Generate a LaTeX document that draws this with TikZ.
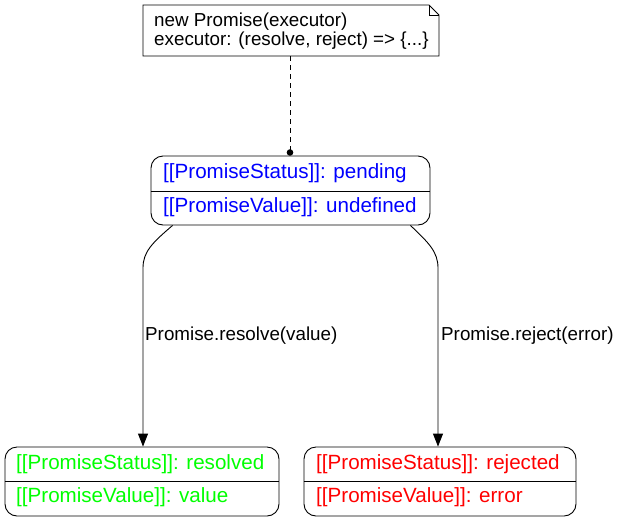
\documentclass[tikz,border=0pt]{standalone}
\usepackage{fontspec}
\setmainfont{Liberation Sans}
\usetikzlibrary{arrows.meta}
\definecolor{stblue}{RGB}{0,0,255}
\definecolor{stgreen}{RGB}{0,255,0}
\definecolor{stred}{RGB}{255,0,0}
\begin{document}
\begin{tikzpicture}[x=1pt,y=-1pt,
  every node/.style={font=\fontsize{18.8}{22}\selectfont, inner sep=0pt},
  statefont/.style={font=\fontsize{20.6}{24}\selectfont},
  statebox/.style={draw, rounded corners=12pt, line width=0.9pt, minimum height=69pt},
  txt/.style={anchor=west},
  edge/.style={line width=0.9pt, -{Triangle[length=13pt,width=10pt]}},
]
\useasboundingbox (0,0) rectangle (621,523);
% note
\draw[line width=0.9pt] (143,5) -- (429,5) -- (439,15) -- (439,56) -- (143,56) -- cycle;
\draw[line width=0.6pt] (429,5) -- (429,15) -- (439,15);
\node (note) [minimum width=296pt, minimum height=51pt] at (291,30.5) {};
\node[txt] (n1) at (154,22) {new Promise(executor)};
\node[txt] (n2) at (154,41) {executor: (resolve, reject) => \{...\}};
% pending
\node[statebox, minimum width=279pt] (pending) at (290.5,190.5) {};
\draw[line width=0.9pt] (pending.west |- 0,191) -- (pending.east |- 0,191);
\node[txt, statefont, text=stblue] (p1) at (163,173) {[[PromiseStatus]]: pending};
\node[txt, statefont, text=stblue] (p2) at (163,207) {[[PromiseValue]]: undefined};
% connector note -> pending
\coordinate (dot) at (290,152.5);
\draw[line width=0.8pt, dash pattern=on 5pt off 4pt] (note.south -| dot) -- (dot);
\fill (dot) circle (3.3pt);
% resolved
\node[statebox, minimum width=274pt] (resolved) at (142,481.5) {};
\draw[line width=0.9pt] (resolved.west |- 0,481) -- (resolved.east |- 0,481);
\node[txt, statefont, text=stgreen] (r1) at (16,464) {[[PromiseStatus]]: resolved};
\node[txt, statefont, text=stgreen] (r2) at (16,497) {[[PromiseValue]]: value};
% rejected
\node[statebox, minimum width=272pt] (rejected) at (440,481.5) {};
\draw[line width=0.9pt] (rejected.west |- 0,481) -- (rejected.east |- 0,481);
\node[txt, statefont, text=stred] (j1) at (316,464) {[[PromiseStatus]]: rejected};
\node[txt, statefont, text=stred] (j2) at (316,497) {[[PromiseValue]]: error};
% edges
\draw[edge] ([xshift=22pt]pending.south west) .. controls (152,243) and (143,252) .. (143,268) -- ([xshift=1pt]resolved.north);
\draw[edge] ([xshift=-20pt]pending.south east) .. controls (429,243) and (438,252) .. (438,268) -- ([xshift=-2pt]rejected.north);
\node[txt] (l1) at (145,336) {Promise.resolve(value)};
\node[txt] (l2) at (441,336) {Promise.reject(error)};
\end{tikzpicture}
\end{document}
